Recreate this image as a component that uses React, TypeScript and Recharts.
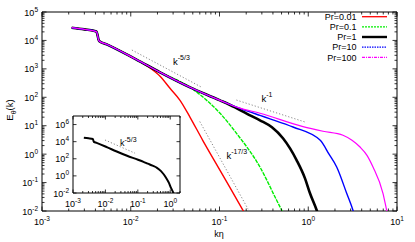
import React from "react";
import { LineChart, Line, XAxis, YAxis, ReferenceArea, Legend } from "recharts";

const FONT = "'Liberation Sans', Arial, Helvetica, sans-serif";

const prLabels = ["Pr=0.01", "Pr=0.1", "Pr=1", "Pr=10", "Pr=100"];

// low-k part shared by every spectrum: [k*eta, E]
const sharedLowK = [
  [0.00216, 28000],
  [0.003, 24500],
  [0.0041, 20500],
  [0.0044, 9600],
  [0.00536, 7300],
  [0.01146, 2170],
  [0.02138, 757],
  [0.04656, 224],
  [0.1014, 78],
];

const tailPr001 = [
  [0.01545, 1230],
  [0.02138, 548],
  [0.02767, 207],
  [0.0359, 78.3],
  [0.0466, 19.8],
  [0.0647, 3.07],
  [0.1014, 0.27],
  [0.184, 0.0106],
  [0.21, 0.0052],
];

const tailPr01 = [
  [0.0573, 140],
  [0.0718, 78],
  [0.1014, 27.4],
  [0.1563, 5.28],
  [0.2857, 0.353],
  [0.4406, 0.0238],
  [0.502, 0.0106],
  [0.56, 0.005],
];

const tailPr1 = [
  [0.1496, 44],
  [0.2022, 26.7],
  [0.2857, 15.5],
  [0.39, 8.79],
  [0.519, 3.61],
  [0.741, 0.607],
  [0.919, 0.141],
  [1.046, 0.042],
  [1.245, 0.0106],
  [1.35, 0.005],
];

const tailPr10 = [
  [0.17, 40.5],
  [0.2857, 23],
  [0.371, 17.5],
  [0.673, 9.02],
  [1.365, 3.07],
  [1.714, 1.0],
  [2.092, 0.353],
  [2.71, 0.042],
  [3.19, 0.0106],
  [3.5, 0.004],
];

const tailPr100 = [
  [0.17, 41.5],
  [0.2857, 27.5],
  [0.873, 9.3],
  [1.466, 6.4],
  [2.463, 4.6],
  [3.11, 3.07],
  [3.83, 1.78],
  [4.59, 0.91],
  [5.366, 0.353],
  [6.95, 0.042],
  [7.65, 0.0106],
  [8.2, 0.004],
];

// guide slopes
const slopeMinus53 = [[0.0103, 4600], [0.063, 225]];
const slopeMinus1 = [[0.155, 80], [0.92, 13.5]];
const slopeMinus173 = [[0.06, 14], [0.21, 0.0116]];
const insetSlopeMinus53 = [[0.0097, 15700], [0.082, 448]];

const xMajor = [0.001, 0.01, 0.1, 1, 10];
const yMajor = [0.01, 0.1, 1, 10, 100, 1000, 10000, 100000];
const insetXMajor = [0.001, 0.01, 0.1, 1];
const insetYMajor = [0.01, 1, 100, 10000, 1000000];

const toPts = (arr: number[][]) => arr.map(([k, e]) => ({ k, e }));
const withLowK = (kMax: number, tail: number[][]) =>
  toPts([...sharedLowK.filter((p) => p[0] <= kMax), ...tail]);

const sPr001 = withLowK(0.0115, tailPr001);
const sPr01 = withLowK(0.047, tailPr01);
const sPr1 = withLowK(0.102, tailPr1);
const sPr10 = withLowK(0.102, tailPr10);
const sPr100 = withLowK(0.102, tailPr100);

const minors = (majors: number[], maxV: number) => {
  const out: number[] = [];
  majors.forEach((m) => {
    for (let i = 2; i <= 9; i++) if (m * i <= maxV) out.push(m * i);
  });
  return out;
};

const isMajor = (v: number) => {
  const l = Math.log10(v);
  return Math.abs(l - Math.round(l)) < 1e-6;
};
const expOf = (v: number) => String(Math.round(Math.log10(v)));

const styles = [
  { color: "#ff0000", width: 1.4, dash: undefined },
  { color: "#00ee00", width: 1.4, dash: "4 1" },
  { color: "#000000", width: 2.6, dash: undefined },
  { color: "#0000ff", width: 1.4, dash: undefined },
  { color: "#ff00ff", width: 1.2, dash: undefined },
];
const legendDash = [undefined, "2 1", undefined, "1.5 1", "3 1 1 1"];

// main plot frame (pixels)
const M = { left: 42, top: 12, right: 397, bottom: 211 };
// inset frame (pixels within inset chart)
const I = { left: 33, top: 8, right: 140, bottom: 85 };

const Pow = ({ x, y, v, anchor, size = 9 }: any) => (
  <text x={x} y={y} textAnchor={anchor} fontSize={size} fontFamily={FONT} fill="#000">
    <tspan>10</tspan>
    <tspan dy={-4} fontSize={size - 2.5}>{expOf(v)}</tspan>
  </text>
);

const makeXTick = (top: number, labels: number[], dy: number, big: number, small: number) =>
  (props: any) => {
    const { x, y, payload } = props;
    const v = payload.value;
    const maj = isMajor(v);
    const len = maj ? big : small;
    return (
      <g>
        <line x1={x} y1={y} x2={x} y2={y - len} stroke="#000" strokeWidth={0.8} />
        <line x1={x} y1={top} x2={x} y2={top + len} stroke="#000" strokeWidth={0.8} />
        {maj && labels.some((l) => Math.abs(l - v) / l < 1e-6) && (
          <Pow x={x} y={y + dy} v={v} anchor="middle" />
        )}
      </g>
    );
  };

const makeYTick = (right: number, big: number, small: number) => (props: any) => {
  const { x, y, payload } = props;
  const v = payload.value;
  const maj = isMajor(v);
  const len = maj ? big : small;
  return (
    <g>
      <line x1={x} y1={y} x2={x + len} y2={y} stroke="#000" strokeWidth={0.8} />
      <line x1={right} y1={y} x2={right - len} y2={y} stroke="#000" strokeWidth={0.8} />
      {maj && <Pow x={x - 4} y={y + 3.5} v={v} anchor="end" />}
    </g>
  );
};

const LegendBox = () => (
  <svg width={150} height={56} style={{ display: "block" }}>
    {prLabels.map((name, i) => {
      const y = 6.7 + i * 10.15;
      return (
        <g key={name}>
          <text x={106.5} y={y + 3.3} textAnchor="end" fontSize={9} fontFamily={FONT} fill="#000">
            {name}
          </text>
          <line
            x1={112}
            x2={137}
            y1={y}
            y2={y}
            stroke={styles[i].color}
            strokeWidth={i === 2 ? 2.4 : 1.3}
            strokeDasharray={legendDash[i]}
          />
        </g>
      );
    })}
  </svg>
);

const guide = (d: number[][], key: string) => (
  <Line
    key={key}
    data={toPts(d)}
    dataKey="e"
    type="linear"
    stroke="#888"
    strokeWidth={1}
    strokeDasharray="1.2 2"
    dot={false}
    legendType="none"
    isAnimationActive={false}
  />
);

export default function App() {
  const series = [sPr001, sPr01, sPr1, sPr10, sPr100];
  const xTicks = [...xMajor, ...minors(xMajor.slice(0, 4), 10)];
  const yTicks = [...yMajor, ...minors(yMajor.slice(0, 7), 1e5)];
  const ixTicks = [...insetXMajor, ...minors(insetXMajor, 2)];

  return (
    <div style={{ position: "absolute", left: 0, top: 0, width: 415, height: 242, background: "#fff" }}>
      <LineChart
        width={415}
        height={242}
        margin={{ top: M.top, left: M.left - 1, right: 415 - M.right, bottom: 242 - M.bottom - 1 }}
      >
        <XAxis
          dataKey="k"
          type="number"
          scale="log"
          domain={[0.001, 10]}
          allowDataOverflow
          ticks={xTicks}
          interval={0}
          height={1}
          tickSize={0}
          tickMargin={0}
          axisLine={false}
          tickLine={false}
          tick={makeXTick(M.top, xMajor, 14, 4.5, 2.5)}
        />
        <YAxis
          type="number"
          scale="log"
          domain={[0.01, 100000]}
          allowDataOverflow
          ticks={yTicks}
          interval={0}
          width={1}
          tickSize={0}
          tickMargin={0}
          axisLine={false}
          tickLine={false}
          tick={makeYTick(M.right, 4.5, 2.5)}
        />
        <ReferenceArea x1={0.001} x2={10} y1={0.01} y2={100000} fill="none" stroke="#000" strokeWidth={1} />
        {guide(slopeMinus53, "g1")}
        {guide(slopeMinus1, "g2")}
        {guide(slopeMinus173, "g3")}
        {series.map((d, i) => (
          <Line
            key={prLabels[i]}
            name={prLabels[i]}
            data={d}
            dataKey="e"
            type="monotone"
            stroke={styles[i].color}
            strokeWidth={styles[i].width}
            strokeDasharray={styles[i].dash}
            dot={false}
            isAnimationActive={false}
          />
        ))}
        <Legend
          layout="horizontal"
          verticalAlign="middle"
          align="center"
          width={150}
          wrapperStyle={{ top: 10, left: 250, width: 150, height: 56 }}
          content={() => <LegendBox />}
        />
        <text x={173} y={64.5} fontSize={9.5} fontFamily={FONT} fill="#000">
          k<tspan dy={-4.5} fontSize={7}>-5/3</tspan>
        </text>
        <text x={261.5} y={101.5} fontSize={9.5} fontFamily={FONT} fill="#000">
          k<tspan dy={-4.5} fontSize={7}>-1</tspan>
        </text>
        <text x={226.5} y={158.5} fontSize={9.5} fontFamily={FONT} fill="#000">
          k<tspan dy={-4.5} fontSize={7}>-17/3</tspan>
        </text>
        <text x={219} y={236.5} textAnchor="middle" fontSize={9} fontFamily={FONT} fill="#000">
          kη
        </text>
        <text transform="translate(13,110) rotate(-90)" textAnchor="middle" fontSize={9.5} fontFamily={FONT} fill="#000">
          E<tspan dy={2.5} fontSize={7}>θ</tspan>
          <tspan dy={-2.5}>(k)</tspan>
        </text>
      </LineChart>

      <div style={{ position: "absolute", left: 40, top: 108 }}>
        <LineChart
          width={150}
          height={105}
          margin={{ top: I.top, left: I.left - 1, right: 150 - I.right, bottom: 105 - I.bottom - 1 }}
        >
          <XAxis
            dataKey="k"
            type="number"
            scale="log"
            domain={[0.001, 2]}
            allowDataOverflow
            ticks={ixTicks}
            interval={0}
            height={1}
            tickSize={0}
            tickMargin={0}
            axisLine={false}
            tickLine={false}
            tick={makeXTick(I.top, insetXMajor, 14, 3.5, 2)}
          />
          <YAxis
            type="number"
            scale="log"
            domain={[0.01, 1e7]}
            allowDataOverflow
            ticks={insetYMajor}
            interval={0}
            width={1}
            tickSize={0}
            tickMargin={0}
            axisLine={false}
            tickLine={false}
            tick={makeYTick(I.right, 3.5, 2)}
          />
          <ReferenceArea x1={0.001} x2={2} y1={0.01} y2={1e7} fill="none" stroke="#000" strokeWidth={1} />
          {guide(insetSlopeMinus53, "ig")}
          <Line
            data={sPr1}
            dataKey="e"
            type="monotone"
            stroke="#000"
            strokeWidth={2}
            dot={false}
            isAnimationActive={false}
          />
          <text x={80} y={38} fontSize={9} fontFamily={FONT} fill="#000">
            k<tspan dy={-4.5} fontSize={7}>-5/3</tspan>
          </text>
        </LineChart>
      </div>
    </div>
  );
}
